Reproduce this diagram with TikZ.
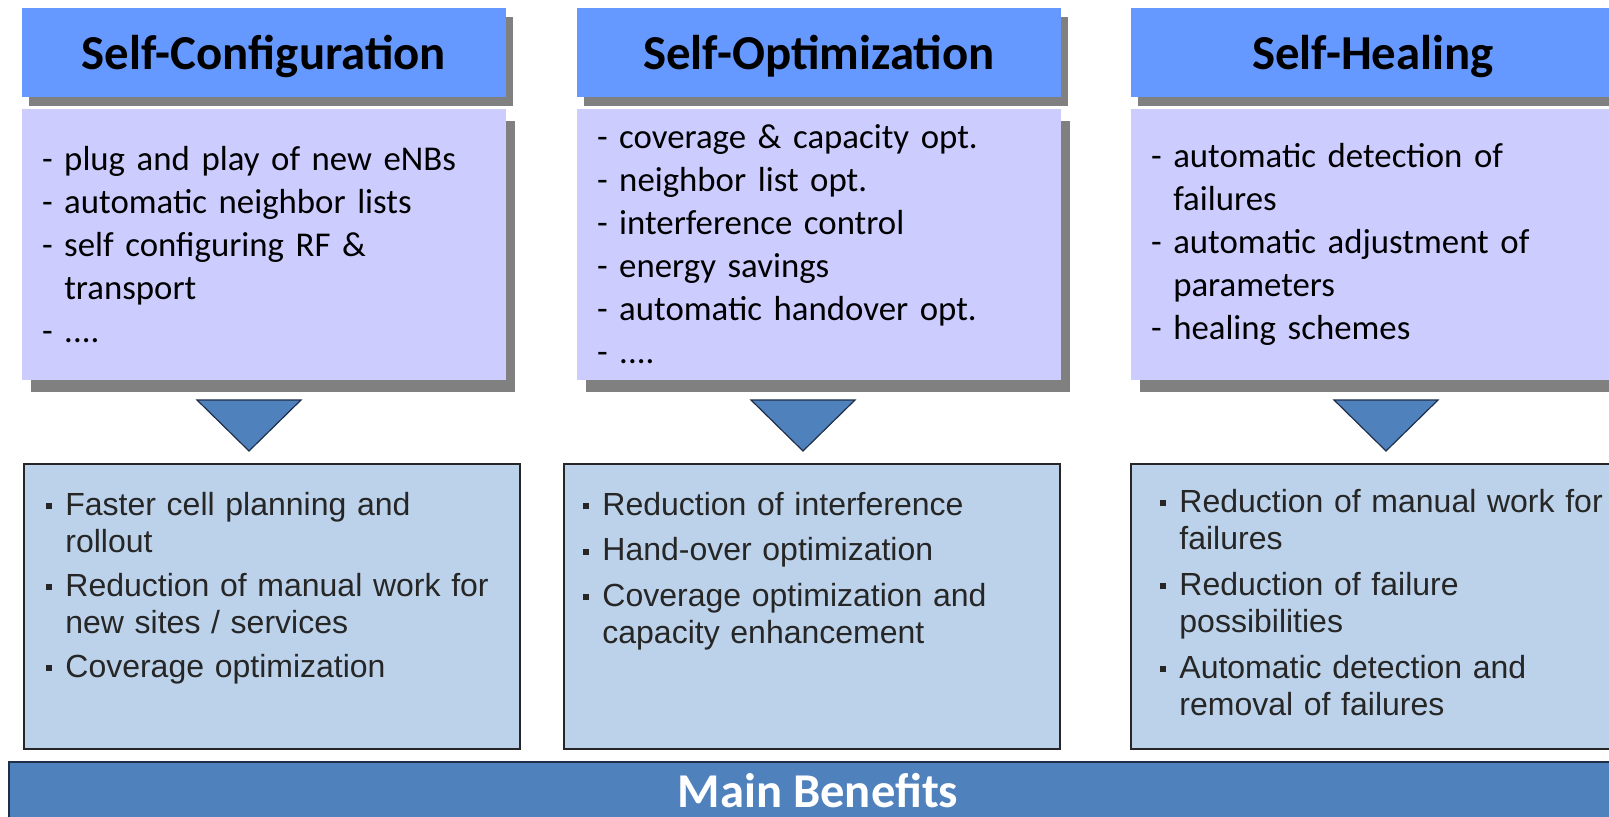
\documentclass[tikz,border=0pt]{standalone}
\usepackage{fontspec}
\setmainfont{Carlito}
\newfontfamily\arialfont{Liberation Sans}
\usepackage{xcolor}
\usetikzlibrary{positioning,shadows}
\definecolor{headblue}{HTML}{6699FF}
\definecolor{lavender}{HTML}{CCCCFF}
\definecolor{shadegray}{HTML}{808080}
\definecolor{paleblue}{HTML}{BCD2EA}
\definecolor{steelblue}{HTML}{4F81BD}
\definecolor{darkline}{HTML}{1F2F4A}
\newcommand{\sqbul}{\makebox[9.5pt][l]{\raisebox{0.18em}{\rule{3pt}{3pt}}}}
\newcommand{\bulgap}{\hspace*{9.5pt}}

\begin{document}
\begin{tikzpicture}[x=0.5pt, y=-0.5pt, node distance=5.5pt, head/.style={fill=headblue,minimum width=242pt,minimum height=44.5pt,inner sep=0pt,text depth=0pt,font=\fontsize{24.4}{29}\selectfont\bfseries,drop shadow={shadow xshift=3.5pt,shadow yshift=-4.75pt,fill=shadegray,opacity=1}}, bodybox/.style={fill=lavender,text width=222pt,inner xsep=10pt,inner ysep=0pt,minimum height=135.5pt,align=left,font=\fontsize{17.4}{21.5}\selectfont,drop shadow={shadow xshift=4.5pt,shadow yshift=-6pt,fill=shadegray,opacity=1}}, benbox/.style={draw=black!85,line width=0.75pt,fill=paleblue,minimum width=248pt,minimum height=142.5pt,inner sep=0pt,anchor=north west}, bentext/.style={text width=236pt,inner sep=0pt,align=left,text=black!85,font=\arialfont\fontsize{16}{18.75}\selectfont}, tri/.style={fill=steelblue,draw=darkline,line width=0.6pt,line join=miter}, bar/.style={fill=steelblue,draw=darkline,line width=0.75pt}, bartext/.style={inner sep=0pt,text=white,font=\fontsize{24.3}{29}\selectfont\bfseries}]
\useasboundingbox (0,0) rectangle (1609,817);
\clip (0,0) rectangle (1609,817);
% the three functions
\node[head] (hconf) at (264,52.5) {Self-Configuration};
\node[head] (hopt) at (819,52.5) {Self-Optimization};
\node[head] (heal) at (1373,52.5) {Self-Healing};
\node[bodybox,below=of hconf] (bconf) {- plug and play of new eNBs\\- automatic neighbor lists\\- self configuring RF \&\\\hphantom{- }transport\\- ....};
\node[bodybox,below=of hopt] (bopt) {- coverage \& capacity opt.\\- neighbor list opt.\\- interference control\\- energy savings\\- automatic handover opt.\\- ....};
\node[bodybox,below=of heal] (bheal) {- automatic detection of\\\hphantom{- }failures\\- automatic adjustment of\\\hphantom{- }parameters\\- healing schemes};
\foreach \cx in {249,803,1386}
  \draw[tri] ({\cx-52},400) -- ({\cx+52},400) -- (\cx,451) -- cycle;
% benefits
\node[benbox] (gconf) at (23,463) {};
\node[benbox] (gopt) at (563,463) {};
\node[benbox] (gheal) at (1130,463) {};
\node[bentext,below right=14.25pt and 11.5pt of gconf.north west] (tconf) {\sqbul Faster cell planning and\\\bulgap rollout\\[3pt]\sqbul Reduction of manual work for\\\bulgap new sites / services\\[3pt]\sqbul Coverage optimization};
\node[bentext,below right=14.25pt and 10pt of gopt.north west] (topt) {\sqbul Reduction of interference\\[4pt]\sqbul Hand-over optimization\\[4pt]\sqbul Coverage optimization and\\\bulgap capacity enhancement};
\node[bentext,below right=12.75pt and 15pt of gheal.north west] (theal) {\sqbul Reduction of manual work for\\\bulgap failures\\[4pt]\sqbul Reduction of failure\\\bulgap possibilities\\[4pt]\sqbul Automatic detection and\\\bulgap removal of failures};
\draw[bar] (9,762) rectangle (1640,840);
\node[bartext] (main) at (818,791) {Main Benefits};
\end{tikzpicture}
\end{document}
